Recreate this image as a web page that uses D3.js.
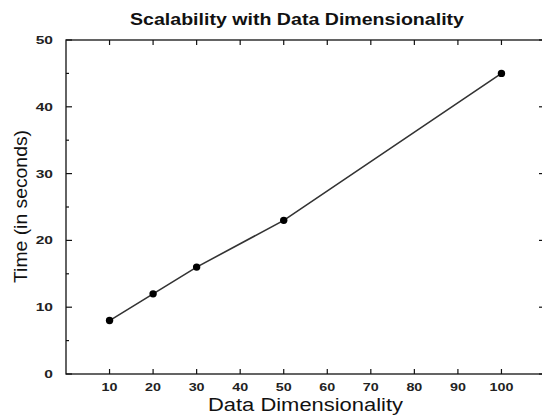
<!DOCTYPE html>
<html><head><meta charset="utf-8">
<script src="https://cdn.jsdelivr.net/npm/d3@7"></script>
<style>body{margin:0;background:#fff}svg{display:block}</style>
</head><body>
<script>
const dims = [10, 20, 30, 50, 100];
const times = [8, 12, 16, 23, 45];
const xTicks = [10, 20, 30, 40, 50, 60, 70, 80, 90, 100];
const yTicks = [0, 10, 20, 30, 40, 50];
const yMinor = [5, 15, 25, 35, 45];

const W = 542, H = 415;
const m = {left: 66, right: -3, top: 40, bottom: 41};
const svg = d3.select("body").append("svg").attr("width", W).attr("height", H);
const x = d3.scaleLinear().domain([0, 110]).range([m.left, W - m.right]);
const y = d3.scaleLinear().domain([0, 50]).range([H - m.bottom, m.top]);
const font = "Liberation Sans, Arial, sans-serif";

function stretch(sel, factor) {
  sel.each(function() {
    const w = this.getComputedTextLength();
    d3.select(this).attr("textLength", w * factor).attr("lengthAdjust", "spacingAndGlyphs");
  });
  return sel;
}

const g = svg.append("g");
g.append("rect").attr("x", x(0)).attr("y", y(50)).attr("width", x(110) - x(0)).attr("height", y(0) - y(50))
  .attr("fill", "none").attr("stroke", "#111").attr("stroke-width", 1.3);

xTicks.forEach(t => {
  g.append("line").attr("x1", x(t)).attr("x2", x(t)).attr("y1", y(0)).attr("y2", y(0) - 5).attr("stroke", "#111").attr("stroke-width", 1.2);
  g.append("line").attr("x1", x(t)).attr("x2", x(t)).attr("y1", y(50)).attr("y2", y(50) + 5).attr("stroke", "#111").attr("stroke-width", 1.2);
  stretch(g.append("text").attr("x", x(t)).attr("y", 391).attr("text-anchor", "middle")
    .attr("font-family", font).attr("font-weight", "bold").attr("font-size", 11).attr("fill", "#222").text(t), 1.3);
});
yTicks.forEach(t => {
  g.append("line").attr("x1", x(0)).attr("x2", x(0) + 6).attr("y1", y(t)).attr("y2", y(t)).attr("stroke", "#111").attr("stroke-width", 1.2);
  g.append("line").attr("x1", x(110)).attr("x2", x(110) - 6).attr("y1", y(t)).attr("y2", y(t)).attr("stroke", "#111").attr("stroke-width", 1.2);
  stretch(g.append("text").attr("x", 53).attr("y", y(t) + 4).attr("text-anchor", "end")
    .attr("font-family", font).attr("font-weight", "bold").attr("font-size", 11.5).attr("fill", "#222").text(t), 1.35);
});
yMinor.forEach(t => {
  g.append("line").attr("x1", x(0)).attr("x2", x(0) + 3).attr("y1", y(t)).attr("y2", y(t)).attr("stroke", "#111").attr("stroke-width", 1.2);
  g.append("line").attr("x1", x(110)).attr("x2", x(110) - 3).attr("y1", y(t)).attr("y2", y(t)).attr("stroke", "#111").attr("stroke-width", 1.2);
});

const pts = dims.map((d, i) => [d, times[i]]);
g.append("path").datum(pts)
  .attr("d", d3.line().x(d => x(d[0])).y(d => y(d[1])))
  .attr("fill", "none").attr("stroke", "#333").attr("stroke-width", 1.6);
g.selectAll("circle.pt").data(pts).enter().append("circle")
  .attr("cx", d => x(d[0])).attr("cy", d => y(d[1])).attr("r", 3.7).attr("fill", "#000");

svg.append("text").attr("x", 297).attr("y", 25).attr("text-anchor", "middle")
  .attr("font-family", font).attr("font-weight", "bold").attr("font-size", 17).attr("fill", "#111")
  .attr("textLength", 334).attr("lengthAdjust", "spacingAndGlyphs")
  .text("Scalability with Data Dimensionality");
svg.append("text").attr("x", 305.5).attr("y", 411).attr("text-anchor", "middle")
  .attr("font-family", font).attr("font-size", 17.5).attr("fill", "#111")
  .attr("textLength", 195).attr("lengthAdjust", "spacingAndGlyphs").text("Data Dimensionality");
svg.append("text").attr("transform", "translate(27,206.5) rotate(-90)").attr("text-anchor", "middle")
  .attr("font-family", font).attr("font-size", 17.5).attr("fill", "#111")
  .attr("textLength", 153).attr("lengthAdjust", "spacingAndGlyphs").text("Time (in seconds)");
</script>
</body></html>
